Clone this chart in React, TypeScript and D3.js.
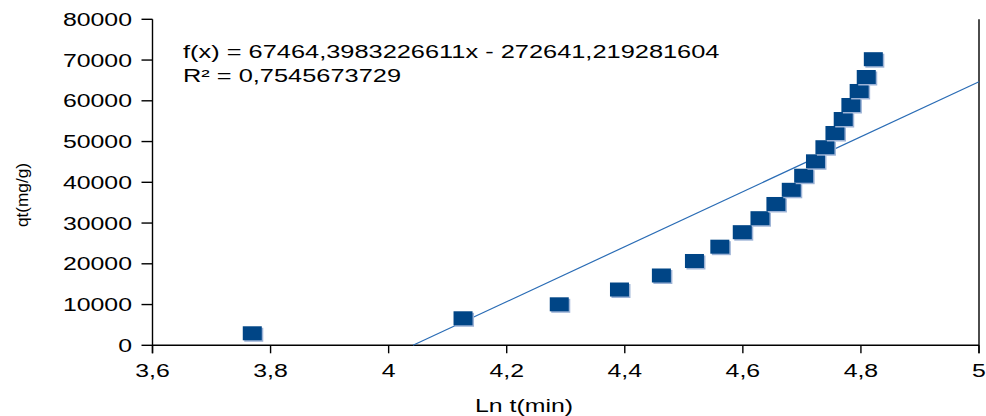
import React from "react";
import * as d3 from "d3";

const lnT = [3.769, 4.126, 4.289, 4.391, 4.462, 4.518, 4.561, 4.599, 4.629, 4.656, 4.682, 4.703, 4.723, 4.739, 4.756, 4.77, 4.783, 4.797, 4.809, 4.821];
const qt = [2950, 6630, 10060, 13690, 17130, 20690, 24200, 27760, 31190, 34680, 38160, 41620, 45150, 48610, 52100, 55530, 58970, 62410, 65840, 70210];
const xTicks = [3.6, 3.8, 4, 4.2, 4.4, 4.6, 4.8, 5];
const xTickLabels = ["3,6", "3,8", "4", "4,2", "4,4", "4,6", "4,8", "5"];
const yTicks = [0, 10000, 20000, 30000, 40000, 50000, 60000, 70000, 80000];
const slope = 67464.3983226611;
const intercept = -272641.219281604;
const eqLines = ["f(x) = 67464,3983226611x - 272641,219281604", "R² = 0,7545673729"];

const W = 986, H = 416;
const SX = 1.38;
const FS = 18;
const FONT = "'Liberation Sans', Arial, sans-serif";

export default function App() {
  const x = d3.scaleLinear().domain([3.6, 5]).range([152.5, 979]);
  const y = d3.scaleLinear().domain([0, 80000]).range([345.3, 19.3]);
  const x0 = -intercept / slope;
  const line = d3.line<number>().x((d) => x(d)).y((d) => y(slope * d + intercept));
  const regPath = line([x0, 5]) || "";
  const rw = 19, rh = 14;
  return (
    <svg width={W} height={H} style={{ position: "absolute", left: 0, top: 0, background: "#fff" }} fontFamily={FONT}>
      <line x1={x(3.6)} x2={x(3.6)} y1={y(80000)} y2={y(0) + 8} stroke="#000" strokeWidth={1.4} />
      <line x1={x(3.6)} x2={x(5)} y1={y(0)} y2={y(0)} stroke="#000" strokeWidth={1.4} />
      <line x1={x(5)} x2={x(5)} y1={y(80000)} y2={y(0) + 8} stroke="#000" strokeWidth={1.4} />
      {yTicks.map((t) => (
        <g key={"y" + t}>
          <line x1={x(3.6) - 11} x2={x(3.6)} y1={y(t)} y2={y(t)} stroke="#000" strokeWidth={1.4} />
          <text transform={`translate(${132},${y(t) + 6.6}) scale(${SX},1)`} textAnchor="end" fontSize={FS} fill="#000">
            {String(t)}
          </text>
        </g>
      ))}
      {xTicks.map((t, i) => (
        <g key={"x" + t}>
          <line x1={x(t)} x2={x(t)} y1={y(0)} y2={y(0) + 8} stroke="#000" strokeWidth={1.4} />
          <text transform={`translate(${x(t)},${376.5}) scale(${SX},1)`} textAnchor="middle" fontSize={FS} fill="#000">
            {xTickLabels[i]}
          </text>
        </g>
      ))}
      <path d={regPath} fill="none" stroke="#2a6cb5" strokeWidth={1.2} />
      {lnT.map((v, i) => (
        <g key={"p" + i}>
          <rect x={x(v) - rw / 2 + 1.5} y={y(qt[i]) - rh / 2 + 1.5} width={rw} height={rh} fill="#9db3d6" />
          <rect x={x(v) - rw / 2} y={y(qt[i]) - rh / 2} width={rw} height={rh} fill="#004586" />
        </g>
      ))}
      {eqLines.map((s, i) => (
        <text key={"eq" + i} transform={`translate(183,${57.5 + i * 24}) scale(1.41,1)`} fontSize={FS} fill="#000">
          {s}
        </text>
      ))}
      <text transform={`translate(524,411.5) scale(${SX},1)`} textAnchor="middle" fontSize={FS} fill="#000">
        Ln t(min)
      </text>
      <text transform={`translate(28,195) rotate(-90)`} textAnchor="middle" fontSize={17.2} fill="#000">
        qt(mg/g)
      </text>
    </svg>
  );
}
